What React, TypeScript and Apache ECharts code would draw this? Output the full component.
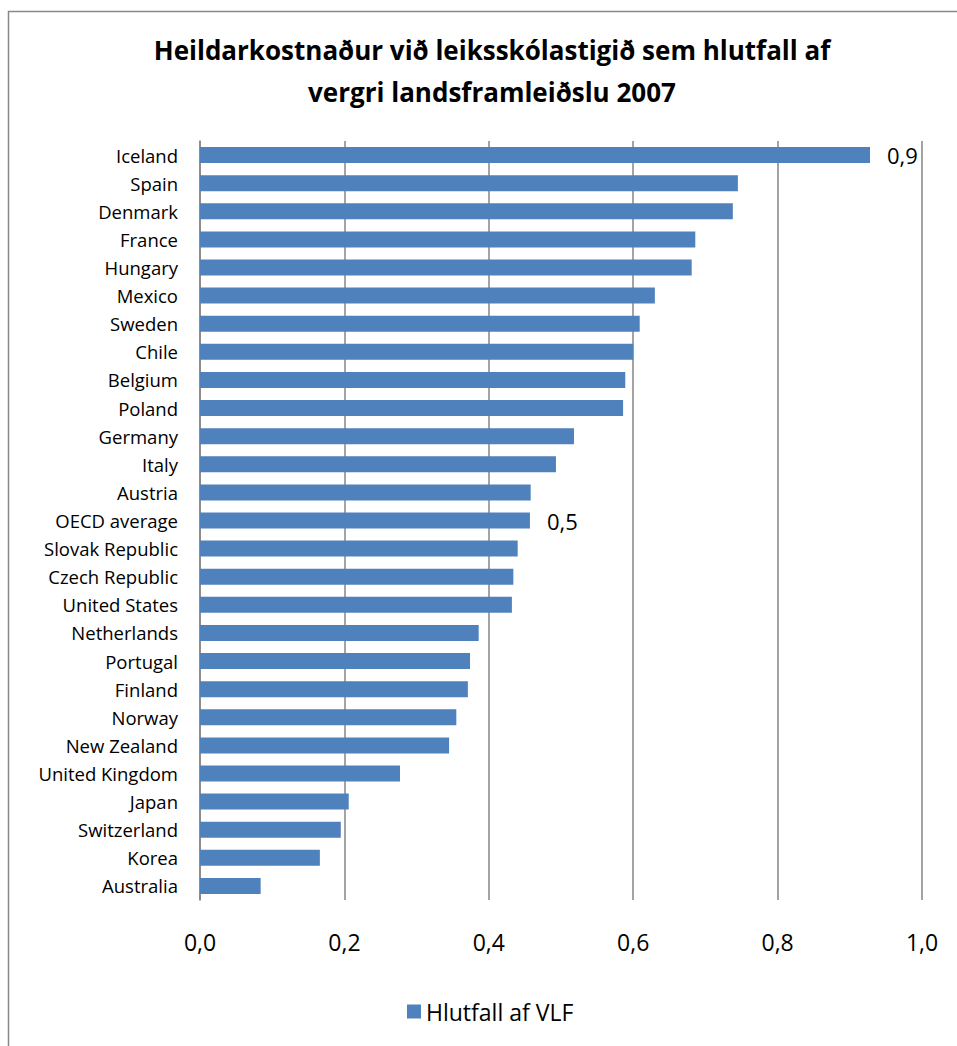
import React, { useEffect, useRef } from "react";
import * as echarts from "echarts";

const countries = [
  "Iceland", "Spain", "Denmark", "France", "Hungary", "Mexico", "Sweden", "Chile",
  "Belgium", "Poland", "Germany", "Italy", "Austria", "OECD average", "Slovak Republic",
  "Czech Republic", "United States", "Netherlands", "Portugal", "Finland", "Norway",
  "New Zealand", "United Kingdom", "Japan", "Switzerland", "Korea", "Australia",
];
const values = [
  0.928, 0.745, 0.738, 0.686, 0.681, 0.63, 0.609, 0.6,
  0.589, 0.586, 0.518, 0.493, 0.458, 0.457, 0.44,
  0.434, 0.432, 0.386, 0.374, 0.371, 0.355,
  0.345, 0.277, 0.206, 0.195, 0.166, 0.084,
];
const labelled = ["Iceland", "OECD average"];
const labelTexts = ["0,9", "0,5"];
const seriesName = "Hlutfall af VLF";
const titleText = "Heildarkostnaður við leiksskólastigið sem hlutfall af\nvergri landsframleiðslu 2007";

const FONT = "'Open Sans', sans-serif";

export default function App() {
  const ref = useRef<HTMLDivElement>(null);
  useEffect(() => {
    if (!ref.current) return;
    const chart = echarts.init(ref.current, null, { renderer: "svg" });
    const data = values.map((v, i) => {
      const li = labelled.indexOf(countries[i]);
      return li >= 0
        ? {
            value: v,
            label: {
              show: true,
              position: "right",
              distance: 17,
              formatter: labelTexts[li],
              fontSize: 22,
              color: "#000",
              fontFamily: FONT,
            },
          }
        : { value: v };
    });
    chart.setOption({
      animation: false,
      backgroundColor: "#fff",
      textStyle: { fontFamily: FONT },
      title: {
        text: titleText,
        left: 487,
        textAlign: "center",
        top: 24,
        textStyle: {
          fontSize: 26,
          fontWeight: "bold",
          color: "#000",
          lineHeight: 42,
          fontFamily: FONT,
        },
      },
      graphic: [
        {
          type: "rect",
          shape: { x: 8.5, y: 11.5, width: 1000, height: 1100 },
          style: { fill: "none", stroke: "#888", lineWidth: 1.5 },
          silent: true,
        },
      ],
      legend: {
        data: [seriesName],
        bottom: 18,
        left: 402,
        itemWidth: 14,
        itemHeight: 14,
        itemGap: 8,
        icon: "rect",
        textStyle: { fontSize: 23, color: "#000", fontFamily: FONT },
      },
      grid: { left: 200, right: 35, top: 141, bottom: 146, containLabel: false },
      xAxis: {
        type: "value",
        min: 0,
        max: 1,
        interval: 0.2,
        axisLine: { show: false },
        axisTick: { show: false },
        splitLine: { show: true, lineStyle: { color: "#868686", width: 1.5 } },
        axisLabel: {
          fontSize: 23,
          color: "#000",
          margin: 30,
          formatter: (v: number) => v.toFixed(1).replace(".", ","),
        },
      },
      yAxis: {
        type: "category",
        data: countries,
        inverse: true,
        axisTick: { show: false },
        axisLine: { show: true, lineStyle: { color: "#868686", width: 1.5 } },
        axisLabel: { fontSize: 18.5, color: "#000", margin: 22 },
      },
      series: [
        {
          name: seriesName,
          type: "bar",
          data,
          barWidth: 16,
          itemStyle: { color: "#4F81BD" },
        },
      ],
    });
    return () => chart.dispose();
  }, []);
  return (
    <div
      ref={ref}
      style={{ position: "absolute", left: 0, top: 0, width: 957, height: 1046 }}
    />
  );
}
